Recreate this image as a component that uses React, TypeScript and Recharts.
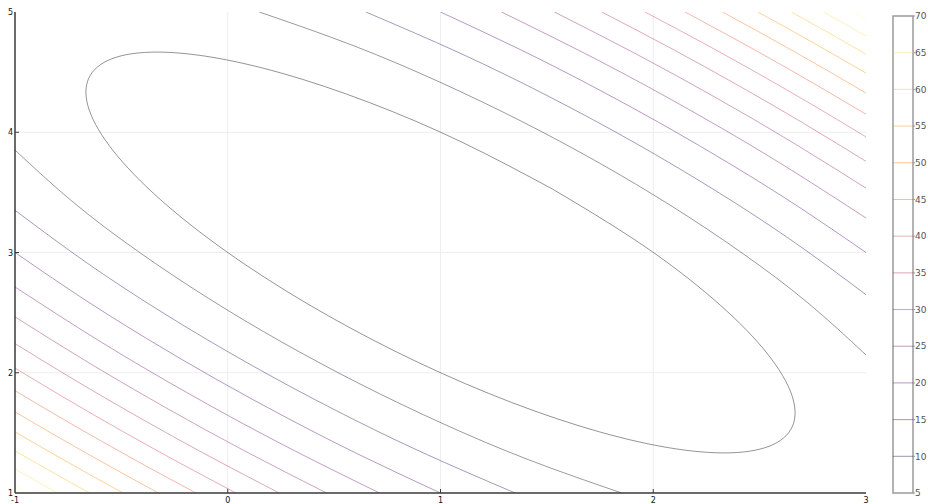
import React from 'react';
import {
  LineChart,
  ComposedChart,
  Line,
  XAxis,
  YAxis,
  CartesianGrid,
  ReferenceLine,
  ReferenceArea,
} from 'recharts';

// Contour levels and their colours (colorbar, bottom to top)
const levels = [5, 10, 15, 20, 25, 30, 35, 40, 45, 50, 55, 60, 65, 70];
const levelColors = [
  '#000004', '#13082e', '#2e0b57', '#4e0d6b', '#6d186c', '#8d2367', '#ab305c',
  '#c9404a', '#df5834', '#f0751e', '#fa9708', '#f9bc28', '#f9df5d', '#fcffa4',
];

const xTicks = [-1, 0, 1, 2, 3];
const yTicks = [1, 2, 3, 4, 5];

// Contour paths: [x, y] pairs
const ring5: [number, number][] = [
  [1.527, 3.527], [1.0999, 3.9183], [0.6659, 4.247], [0.2546, 4.4907], [-0.1058, 4.6328],
  [-0.3909, 4.6637], [-0.5811, 4.5811], [-0.6637, 4.3909], [-0.6328, 4.1058], [-0.4907, 3.7454],
  [-0.247, 3.3341], [0.0817, 2.9001], [0.473, 2.473], [0.9001, 2.0817], [1.3341, 1.753],
  [1.7454, 1.5093], [2.1058, 1.3672], [2.3909, 1.3363], [2.5811, 1.4189], [2.6637, 1.6092],
  [2.6328, 1.8942], [2.4907, 2.2546], [2.247, 2.6659], [1.9183, 3.0999], [1.527, 3.527],
];
const upper10: [number, number][] = [
  [0.1481, 5], [0.5851, 4.7241], [0.9935, 4.4195], [1.3793, 4.0923], [1.7454, 3.7454],
  [2.0923, 3.3793], [2.4195, 2.9935], [2.7241, 2.5851], [3, 2.1481],
];
const lower10: [number, number][] = [
  [-1, 3.8519], [-0.7241, 3.4149], [-0.4195, 3.0065], [-0.0923, 2.6207], [0.2546, 2.2546],
  [0.6207, 1.9077], [1.0065, 1.5805], [1.4149, 1.2759], [1.8519, 1],
];
const upper15: [number, number][] = [
  [0.649, 5], [1.0912, 4.6582], [1.5115, 4.2955], [1.9129, 3.9129], [2.2955, 3.5115], [2.6582, 3.0912], [3, 2.649],
];
const lower15: [number, number][] = [
  [-1, 3.351], [-0.6582, 2.9088], [-0.2955, 2.4885], [0.0871, 2.0871], [0.4885, 1.7045], [0.9088, 1.3418], [1.351, 1],
];
const upper20: [number, number][] = [
  [1, 5], [1.3637, 4.6971], [1.7149, 4.3816], [2.0541, 4.0541], [2.3816, 3.7149], [2.6971, 3.3637], [3, 3],
];
const lower20: [number, number][] = [
  [-1, 3], [-0.6971, 2.6363], [-0.3816, 2.2851], [-0.0541, 1.9459], [0.2851, 1.6184], [0.6363, 1.3029], [1, 1],
];
const upper25: [number, number][] = [[1.2868, 5], [1.7415, 4.5981], [2.1785, 4.1785], [2.5981, 3.7415], [3, 3.2868]];
const lower25: [number, number][] = [[-1, 2.7132], [-0.5981, 2.2585], [-0.1785, 1.8215], [0.2585, 1.4019], [0.7132, 1]];
const upper30: [number, number][] = [[1.5354, 5], [1.9191, 4.6514], [2.291, 4.291], [2.6514, 3.9191], [3, 3.5354]];
const lower30: [number, number][] = [[-1, 2.4646], [-0.6514, 2.0809], [-0.291, 1.709], [0.0809, 1.3486], [0.4646, 1]];
const upper35: [number, number][] = [[1.758, 5], [2.0801, 4.7011], [2.3944, 4.3944], [2.7011, 4.0801], [3, 3.758]];
const lower35: [number, number][] = [[-1, 2.242], [-0.7011, 1.9199], [-0.3944, 1.6056], [-0.0801, 1.2989], [0.242, 1]];
const upper40: [number, number][] = [[1.9613, 5], [2.2285, 4.7479], [2.4907, 4.4907], [2.7479, 4.2285], [3, 3.9613]];
const lower40: [number, number][] = [[-1, 2.0387], [-0.7479, 1.7715], [-0.4907, 1.5093], [-0.2285, 1.2521], [0.0387, 1]];
const upper45: [number, number][] = [[2.1496, 5], [2.367, 4.7922], [2.5811, 4.5811], [2.7922, 4.367], [3, 4.1496]];
const lower45: [number, number][] = [[-1, 1.8504], [-0.7922, 1.633], [-0.5811, 1.4189], [-0.367, 1.2078], [-0.1496, 1]];
const upper50: [number, number][] = [[2.3258, 5], [2.4972, 4.8343], [2.6667, 4.6667], [2.8343, 4.4972], [3, 4.3258]];
const lower50: [number, number][] = [[-1, 1.6742], [-0.8343, 1.5028], [-0.6667, 1.3333], [-0.4972, 1.1657], [-0.3258, 1]];
const upper55: [number, number][] = [[2.4919, 5], [2.6205, 4.8745], [2.748, 4.748], [2.8745, 4.6205], [3, 4.4919]];
const lower55: [number, number][] = [[-1, 1.5081], [-0.8745, 1.3795], [-0.748, 1.252], [-0.6205, 1.1255], [-0.4919, 1]];
const upper60: [number, number][] = [[2.6496, 5], [2.8257, 4.8257], [3, 4.6496]];
const lower60: [number, number][] = [[-1, 1.3504], [-0.8257, 1.1743], [-0.6496, 1]];
const upper65: [number, number][] = [[2.8, 5], [2.9003, 4.9003], [3, 4.8]];
const lower65: [number, number][] = [[-1, 1.2], [-0.9003, 1.0997], [-0.8, 1]];
const upper70: [number, number][] = [[2.944, 5], [2.972, 4.972], [3, 4.944]];
const lower70: [number, number][] = [[-1, 1.056], [-0.972, 1.028], [-0.944, 1]];

const contours: { level: number; pts: [number, number][] }[] = [
  { level: 5, pts: ring5 },
  { level: 10, pts: upper10 }, { level: 10, pts: lower10 },
  { level: 15, pts: upper15 }, { level: 15, pts: lower15 },
  { level: 20, pts: upper20 }, { level: 20, pts: lower20 },
  { level: 25, pts: upper25 }, { level: 25, pts: lower25 },
  { level: 30, pts: upper30 }, { level: 30, pts: lower30 },
  { level: 35, pts: upper35 }, { level: 35, pts: lower35 },
  { level: 40, pts: upper40 }, { level: 40, pts: lower40 },
  { level: 45, pts: upper45 }, { level: 45, pts: lower45 },
  { level: 50, pts: upper50 }, { level: 50, pts: lower50 },
  { level: 55, pts: upper55 }, { level: 55, pts: lower55 },
  { level: 60, pts: upper60 }, { level: 60, pts: lower60 },
  { level: 65, pts: upper65 }, { level: 65, pts: lower65 },
  { level: 70, pts: upper70 }, { level: 70, pts: lower70 },
];

const colorOf = (level: number) => levelColors[levels.indexOf(level)];
const LINE_OPACITY = 0.42;
const AXIS_COLOR = '#3a3a3a';
const FONT = 'DejaVu Sans, sans-serif';

const XTick = (props: any) => {
  const { x, y, payload } = props;
  const edge = payload.value === -1 || payload.value === 3;
  return (
    <g>
      {!edge && <line x1={x} x2={x} y1={y} y2={y - 4} stroke={AXIS_COLOR} strokeWidth={1} />}
      <text x={x} y={y + 10} textAnchor="middle" fontSize={8} fill="#111" fontFamily={FONT}>
        {payload.value}
      </text>
    </g>
  );
};

const YTick = (props: any) => {
  const { x, y, payload } = props;
  const edge = payload.value === 1 || payload.value === 5;
  return (
    <g>
      {!edge && <line x1={x} x2={x + 4} y1={y} y2={y} stroke={AXIS_COLOR} strokeWidth={1} />}
      <text x={x - 2} y={y + 3} textAnchor="end" fontSize={8} fill="#111" fontFamily={FONT}>
        {payload.value}
      </text>
    </g>
  );
};

const colorbarData = [{ x: 0, y: 5 }, { x: 1, y: 70 }];

export default function App() {
  return (
    <div style={{ position: 'absolute', left: 0, top: 0, width: 928, height: 504, background: '#fff' }}>
      <div style={{ position: 'absolute', left: 0, top: 0 }}>
        <LineChart width={928} height={504} margin={{ top: 12, right: 62, bottom: 10, left: 14 }}>
          <CartesianGrid stroke="#eeeeee" horizontalValues={[2, 3, 4]} verticalValues={[0, 1, 2]} />
          <XAxis
            dataKey="x"
            type="number"
            domain={[-1, 3]}
            ticks={xTicks}
            interval={0}
            allowDataOverflow
            height={1}
            tickSize={0}
            tickMargin={0}
            tickLine={false}
            axisLine={{ stroke: AXIS_COLOR, strokeWidth: 1.5 }}
            tick={<XTick />}
          />
          <YAxis
            type="number"
            domain={[1, 5]}
            ticks={yTicks}
            interval={0}
            allowDataOverflow
            width={1}
            tickSize={0}
            tickMargin={0}
            tickLine={false}
            axisLine={{ stroke: AXIS_COLOR, strokeWidth: 1.5 }}
            tick={<YTick />}
          />
          {contours.map((c, i) => (
            <Line
              key={i}
              data={c.pts.map(([x, y]) => ({ x, y }))}
              dataKey="y"
              type="natural"
              stroke={colorOf(c.level)}
              strokeOpacity={LINE_OPACITY}
              strokeWidth={1}
              dot={false}
              activeDot={false}
              isAnimationActive={false}
            />
          ))}
        </LineChart>
      </div>
      <div style={{ position: 'absolute', left: 885, top: 0 }}>
        <ComposedChart
          width={43}
          height={504}
          margin={{ top: 16, right: 14, bottom: 11, left: 8 }}
          data={colorbarData}
        >
          <XAxis dataKey="x" type="number" domain={[0, 1]} hide />
          <YAxis
            type="number"
            domain={[5, 70]}
            ticks={levels}
            interval={0}
            orientation="right"
            width={1}
            allowDataOverflow
            axisLine={false}
            tickLine={{ stroke: '#999' }}
            tickSize={2}
            tickMargin={0}
            tick={{ fill: '#555', fontSize: 9, fontFamily: FONT }}
          />
          {levels.slice(1, -1).map((L) => (
            <ReferenceLine
              key={L}
              y={L}
              stroke={colorOf(L)}
              strokeOpacity={LINE_OPACITY}
              strokeWidth={1}
            />
          ))}
          <ReferenceArea x1={0} x2={1} y1={5} y2={70} fill="none" stroke="#9a9a9a" strokeWidth={1.5} />
          <Line dataKey="y" stroke="none" dot={false} activeDot={false} isAnimationActive={false} />
        </ComposedChart>
      </div>
    </div>
  );
}
